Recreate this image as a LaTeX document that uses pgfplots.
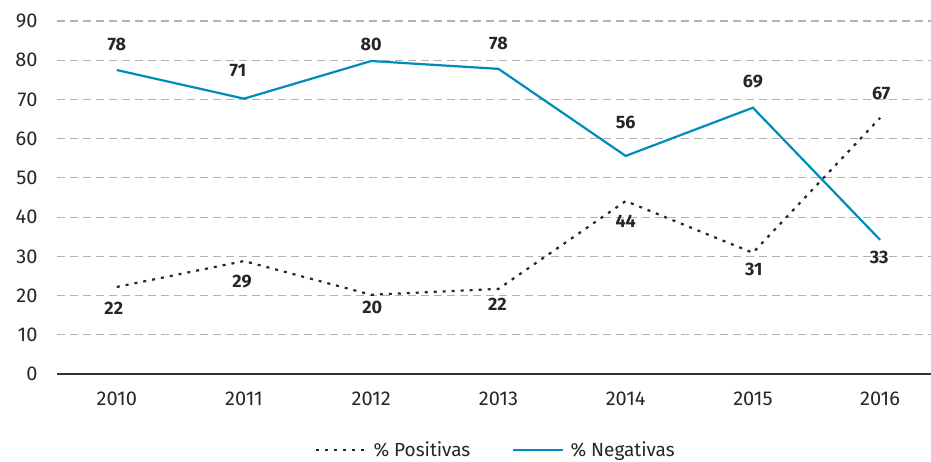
\documentclass[border=0pt]{standalone}
\usepackage{pgfplots}
\pgfplotsset{compat=1.18}
\usepackage{pgfplotstable}
\usepackage{fontspec}
\setmainfont{Fira Sans}
\definecolor{negblue}{RGB}{0,140,186}
\pgfplotstableread{
x y lab dy dx
0 77.5 78 26 0
1 70.2 71 28 -6
2 79.8 80 17 0
3 77.8 78 25 0
4 55.6 56 33 0
5 67.9 69 26 0
6 34.2 33 -18 -1
}\negdata
\pgfplotstableread{
x y lab dy dx
0 22.2 22 -21 -3
1 28.8 29 -20 -2
2 20.2 20 -13 1
3 21.7 22 -15 -1
4 44.1 44 -20 0
5 30.9 31 -17 1
6 65.3 67 24 1
}\posdata
\begin{document}
\begin{tikzpicture}[x=1pt,y=1pt]
\path[use as bounding box] (-57,-87) rectangle (874,374);
\begin{axis}[
  at={(0,0)}, anchor=south west,
  scale only axis, width=874pt, height=353pt,
  xmin=-0.47, xmax=6.4, ymin=0, ymax=90,
  ytick={0,10,...,90}, xtick={0,...,6},
  xticklabels={2010,2011,2012,2013,2014,2015,2016},
  /pgf/number format/assume math mode=true,
  axis lines*=left,
  y axis line style={draw=none},
  x axis line style={line width=1.6pt, color=black!80},
  tick style={draw=none},
  ymajorgrids,
  grid style={color=black!30, line width=1.1pt, dash pattern=on 8pt off 5pt},
  tick label style={font=\fontsize{20}{22}\selectfont, text=black!85},
  yticklabel style={xshift=-16pt},
  xticklabel style={yshift=-14pt},
  clip=false,
  legend style={at={(0.5,0)}, anchor=center, yshift=-76pt, xshift=4pt, draw=none, fill=none,
    font=\fontsize{19}{22}\selectfont, text=black!85,
    /tikz/every even column/.append style={column sep=36pt},
    nodes={inner xsep=6pt}},
  legend columns=2,
  legend image code/.code={\draw[#1] (0pt,0pt) -- (50pt,0pt);},
  nodes near coords,
  point meta=explicit symbolic,
  visualization depends on={\thisrow{dy} \as \dy},
  visualization depends on={\thisrow{dx} \as \dx},
  nodes near coords style={anchor=center, yshift=\dy pt, xshift=\dx pt,
    font=\bfseries\fontsize{18}{20}\selectfont, text=black!85},
]
\addplot[black!85, line width=2.2pt, dash pattern=on 3pt off 6pt] table[x=x, y=y, meta=lab] {\posdata};
\addlegendentry{\% Positivas}
\addplot[negblue, line width=2.2pt] table[x=x, y=y, meta=lab] {\negdata};
\addlegendentry{\% Negativas}
\end{axis}
\end{tikzpicture}
\end{document}
